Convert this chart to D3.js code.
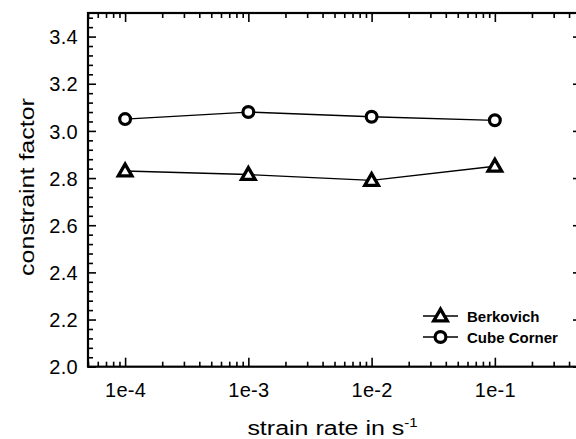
<!DOCTYPE html>
<html><head><meta charset="utf-8">
<script src="https://cdn.jsdelivr.net/npm/d3@7"></script>
<style>body{margin:0;background:#fff}svg{display:block}</style>
</head><body>
<svg id="chart" width="576" height="439"></svg>
<script>
const strainRates = [1e-4, 1e-3, 1e-2, 1e-1];
const berkovich = [2.83, 2.815, 2.79, 2.85];
const cubeCorner = [3.05, 3.08, 3.06, 3.045];
const xTickValues = [1e-4, 1e-3, 1e-2, 1e-1];
const xTickLabels = ["1e-4", "1e-3", "1e-2", "1e-1"];
const yTickValues = [2.0, 2.2, 2.4, 2.6, 2.8, 3.0, 3.2, 3.4];
const yTickLabels = ["2.0", "2.2", "2.4", "2.6", "2.8", "3.0", "3.2", "3.4"];
const seriesNames = ["Berkovich", "Cube Corner"];

const svg = d3.select("#chart");
const L = 88, R = 581, T = 13, B = 366.7;
const x = d3.scaleLog().domain([5e-5, 0.5]).range([L, R]);
const y = d3.scaleLinear().domain([2.0, 3.5]).range([B, T]);

const font = "'Liberation Sans', Arial, sans-serif";

const xMinor = x.ticks().filter(v => !xTickValues.some(m => Math.abs(m - v) / m < 1e-6));
const yMinor = d3.range(0, 38).map(i => 2.0 + i * 0.04).filter(v => v < 3.501 && !yTickValues.some(m => Math.abs(m - v) < 1e-6));

function styleAxis(g) {
  g.select(".domain").remove();
  g.selectAll(".tick line").attr("stroke", "#000").attr("stroke-width", 1.6);
}
svg.append("g").attr("transform", `translate(0,${B})`)
  .call(d3.axisBottom(x).tickValues(xMinor).tickSize(-5).tickFormat(""))
  .call(styleAxis);
svg.append("g").attr("transform", `translate(0,${B})`)
  .call(d3.axisBottom(x).tickValues(xTickValues).tickSize(-9).tickPadding(0).tickFormat((d, i) => xTickLabels[i]))
  .call(styleAxis)
  .call(g => g.selectAll(".tick text").attr("y", 30.5).attr("dy", 0)
    .style("font-family", font).style("font-size", "20px").attr("fill", "#000")
    .style("letter-spacing", "0.3px"));
svg.append("g").attr("transform", `translate(0,${T})`)
  .call(d3.axisTop(x).tickValues(xMinor).tickSize(-5).tickFormat(""))
  .call(styleAxis);
svg.append("g").attr("transform", `translate(0,${T})`)
  .call(d3.axisTop(x).tickValues(xTickValues).tickSize(-9).tickFormat(""))
  .call(styleAxis);
svg.append("g").attr("transform", `translate(${L},0)`)
  .call(d3.axisLeft(y).tickValues(yMinor).tickSize(-5).tickFormat(""))
  .call(styleAxis);
svg.append("g").attr("transform", `translate(${L},0)`)
  .call(d3.axisLeft(y).tickValues(yTickValues).tickSize(-8).tickFormat((d, i) => yTickLabels[i]))
  .call(styleAxis)
  .call(g => g.selectAll(".tick text").attr("x", -10).attr("dy", "0.36em")
    .style("font-family", font).style("font-size", "20px").attr("fill", "#000")
    .style("letter-spacing", "0.3px"));
svg.append("g").attr("transform", `translate(${R},0)`)
  .call(d3.axisRight(y).tickValues(yMinor).tickSize(-5).tickFormat(""))
  .call(styleAxis);
svg.append("g").attr("transform", `translate(${R},0)`)
  .call(d3.axisRight(y).tickValues(yTickValues).tickSize(-8).tickFormat(""))
  .call(styleAxis);

svg.append("rect").attr("x", L).attr("y", T).attr("width", R - L).attr("height", B - T)
  .attr("fill", "none").attr("stroke", "#000").attr("stroke-width", 2.2);

const line = d3.line().x((d, i) => x(strainRates[i])).y(d => y(d));
[berkovich, cubeCorner].forEach(s => {
  svg.append("path").datum(s).attr("d", line).attr("fill", "none")
    .attr("stroke", "#000").attr("stroke-width", 1.3);
});

const tri = d3.symbol().type(d3.symbolTriangle).size(80);
function drawTri(g, cx, cy) {
  g.append("path").attr("d", tri()).attr("transform", `translate(${cx},${cy + 1})`)
    .attr("fill", "#fff").attr("stroke", "#000").attr("stroke-width", 3.3).attr("stroke-linejoin", "miter");
}
function drawCirc(g, cx, cy) {
  g.append("circle").attr("cx", cx).attr("cy", cy).attr("r", 5.4)
    .attr("fill", "#fff").attr("stroke", "#000").attr("stroke-width", 3.2);
}
berkovich.forEach((v, i) => drawTri(svg, x(strainRates[i]), y(v)));
cubeCorner.forEach((v, i) => drawCirc(svg, x(strainRates[i]), y(v)));

const legY = [316, 337];
const lg = svg.append("g");
legY.forEach((ly, i) => {
  lg.append("line").attr("x1", 423).attr("x2", 458).attr("y1", ly).attr("y2", ly)
    .attr("stroke", "#000").attr("stroke-width", 1.5);
  if (i === 0) drawTri(lg, 440.5, ly); else drawCirc(lg, 440.5, ly);
  lg.append("text").attr("x", 467).attr("y", ly + 5.5).text(seriesNames[i])
    .attr("font-family", font).attr("font-weight", "bold").attr("font-size", 15).attr("fill", "#000");
});

const xt = svg.append("g").attr("transform", `translate(${(L + R) / 2 - 2},435)`)
  .append("text").attr("transform", "scale(1.25,1)").attr("text-anchor", "middle")
  .attr("font-family", font).attr("font-size", 20).attr("fill", "#000");
xt.append("tspan").text("strain rate in s");
xt.append("tspan").attr("dy", -8).attr("font-size", 12).text("-1");

svg.append("g").attr("transform", `translate(34,${187}) rotate(-90)`)
  .append("text").attr("transform", "scale(1.25,1)").attr("text-anchor", "middle")
  .attr("font-family", font).attr("font-size", 20).attr("fill", "#000")
  .text("constraint factor");
</script>
</body></html>
